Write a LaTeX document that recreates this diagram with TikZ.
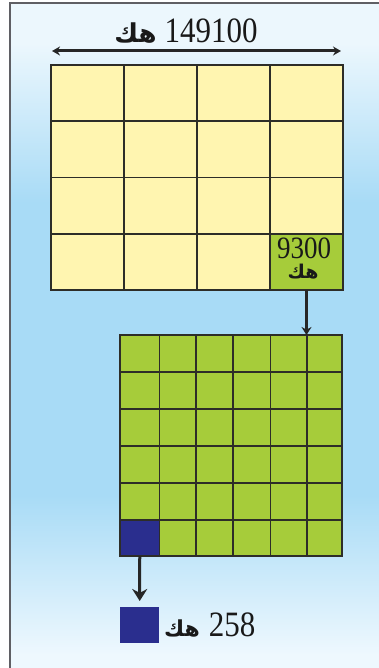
\documentclass[tikz,border=0pt]{standalone}
\usepackage{fontspec}
\setmainfont{Liberation Serif}
\newfontfamily\arabicfont[Script=Arabic]{DejaVu Sans}
\TeXXeTstate=1
\usetikzlibrary{arrows.meta}
\definecolor{cellyellow}{RGB}{255,245,176}
\definecolor{cellgreen}{RGB}{166,204,58}
\definecolor{cellblue}{RGB}{42,46,142}
\definecolor{bgtop}{RGB}{236,247,253}
\definecolor{bgmid}{RGB}{168,219,246}
\definecolor{bgbot}{RGB}{238,248,254}
\definecolor{gridline}{RGB}{45,45,40}
\definecolor{framegrey}{RGB}{95,95,100}
\pgfdeclareverticalshading{bgshade}{100bp}{color(0bp)=(bgbot); color(26bp)=(bgbot); color(38bp)=(bgmid); color(60bp)=(bgmid); color(72bp)=(bgtop); color(100bp)=(bgtop)}
\tikzset{
  cellbox/.style={draw=gridline, line width=1.1pt, anchor=north west, inner sep=0pt, outer sep=0pt},
  gline/.style={draw=gridline, line width=1.1pt},
  arr/.style={draw=black!85, line width=3pt},
  numtxt/.style={inner sep=0pt, text=black!90},
}
\newcommand{\hk}[1]{{\arabicfont\bfseries\fontsize{#1}{#1}\selectfont\beginR هك\endR}}
\newcommand{\numtall}[2]{\scalebox{1}[1.15]{\fontsize{#1}{#1}\selectfont #2}}
\begin{document}
\begin{tikzpicture}[x=1pt,y=-1pt]
\useasboundingbox (0,0) rectangle (379,668);
% background
\shade[shading=bgshade] (10,3) rectangle (379,668);
\draw[framegrey, line width=1.3pt] (10,668) -- (10,3) -- (379,3);

% top grid
\node[cellbox, fill=cellyellow, minimum width=292pt, minimum height=225pt] (tg) at (51,65) {};
\foreach \x in {124,197,270} \draw[gline] (\x,65) -- (\x,290);
\foreach \y in {121,177.5,234} \draw[gline] (51,\y) -- (343,\y);
\node[cellbox, fill=cellgreen, minimum width=73pt, minimum height=56pt] (g) at (270,234) {};
\node[numtxt] (n9300) at (304,248) {\numtall{27}{9300}};
\node[numtxt] (a9300) at (303,272) {\hk{19}};

% top dimension arrow
\coordinate (tl) at ([xshift=1pt,yshift=14pt]tg.north west);
\coordinate (tr) at ([xshift=-2pt,yshift=14pt]tg.north east);
\draw[arr, {Stealth[length=8pt,width=9pt]}-{Stealth[length=8pt,width=9pt]}] (tl) -- (tr);
\node[numtxt] (toplab) at (186,31) {\hk{26}\hspace{8pt}\numtall{31}{149100}};

% lower grid
\node[cellbox, fill=cellgreen, minimum width=222pt, minimum height=221pt] (lg) at (120,335) {};
\foreach \x in {159.5,196,233,270.5,307} \draw[gline] (\x,335) -- (\x,556);
\foreach \y in {372,409,446,483,520} \draw[gline] (120,\y) -- (342,\y);
\node[cellbox, fill=cellblue, minimum width=39.5pt, minimum height=36pt] (b) at (120,520) {};

% arrow from green cell to lower grid
\draw[arr, -{Stealth[length=8pt,width=10pt]}] (g.south) -- (g.south |- lg.north);

% arrow from blue cell to bottom square
\node[anchor=north west, fill=cellblue, minimum width=39pt, minimum height=36pt, inner sep=0pt] (bs) at (120,607) {};
\draw[arr, -{Stealth[length=12pt,width=15pt]}, shorten >=6pt] (b.south) -- (bs.north);
\node[numtxt, anchor=west] (botlab) at (164,625) {\hk{22}\hspace{9pt}\numtall{31}{258}};
\end{tikzpicture}
\end{document}
